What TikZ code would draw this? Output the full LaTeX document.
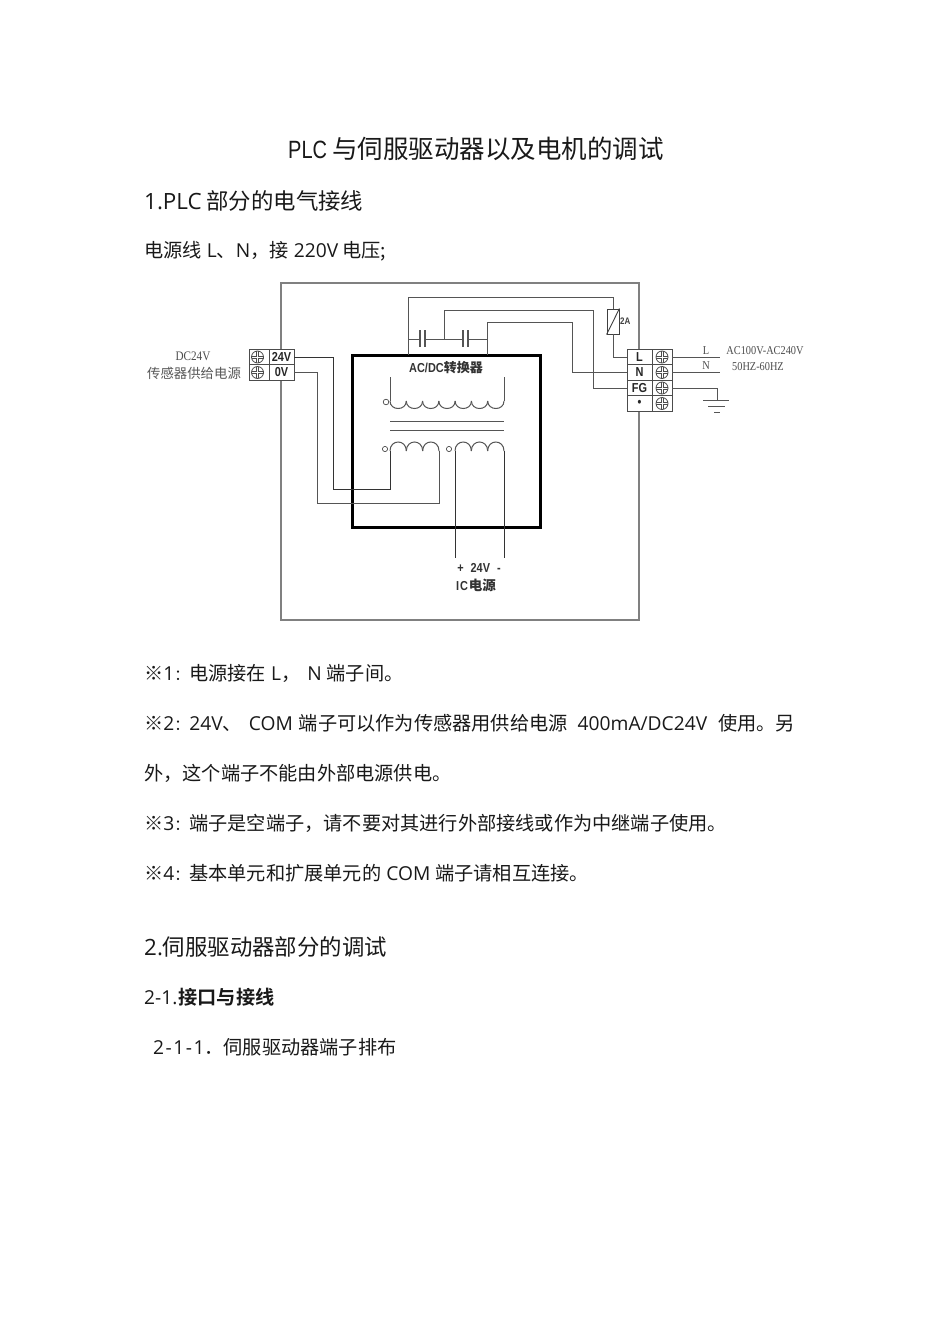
\documentclass[tikz,border=0pt]{standalone}
\usepackage{fontspec}
\setmainfont{Open Sans}
\newfontfamily\cj{Noto Sans CJK SC}
\newfontfamily\cjb{Noto Sans CJK SC Bold}
\newfontfamily\hei[FakeStretch=0.84]{Liberation Sans}
\newfontfamily\srf[FakeStretch=0.86]{Liberation Serif}
\newfontfamily\pl[FakeStretch=0.8]{Liberation Sans}
\newcommand{\C}[1]{{\cj #1}}
\newcommand{\Col}{{\cj\fontsize{15}{15}\selectfont ：}}
\definecolor{wirec}{HTML}{555555}
\definecolor{boxc}{HTML}{808080}
\tikzset{
  x=1pt,y=-1pt,
  txt/.style={anchor=base west,inner sep=0pt,text=black!90},
  titlef/.style={txt,font=\fontsize{25.5}{30}\selectfont},
  headf/.style={txt,font=\fontsize{22.4}{26}\selectfont},
  bodyf/.style={txt,font=\fontsize{19.2}{22}\selectfont},
  wire/.style={draw=wirec,line width=1pt,line join=miter},
  darkwire/.style={draw=black!80,line width=0.9pt},
  thickbox/.style={draw=black,line width=3pt},
  outerbox/.style={draw=boxc,line width=1.2pt},
  cell/.style={draw=black!70,fill=white,line width=0.9pt,inner sep=0pt,minimum height=15.5pt,font=\hei\bfseries\fontsize{13}{13}\selectfont,text=black!85},
  lab/.style={cell,minimum width=25pt},
  scr/.style={cell,minimum width=20pt},
  small/.style={inner sep=0pt,text=black!70},
  ring/.style={draw=black!70,line width=0.7pt,fill=white},
  screw/.pic={
    \draw[black!70,line width=0.8pt] (0,0) circle[radius=6];
    \draw[black!70,line width=0.7pt] (-6,-1)--(-1,-1)--(-1,-5.7) (1,-5.7)--(1,-1)--(6,-1)
      (-6,1)--(-1,1)--(-1,5.7) (1,5.7)--(1,1)--(6,1);
  }
}
\newcommand{\bumps}[5]{% start x, base y, count, width, ctrl depth
  \foreach \i in {1,...,#3}{
    \draw[wire] ({#1+(\i-1)*#4},#2) .. controls +(0,#5) and +(0,#5) .. ++(#4,0);
  }}
\begin{document}
\begin{tikzpicture}
\useasboundingbox[fill=white] (0,0) rectangle (950,1344);

% document text
\node[titlef] (title) at (288,158) {{\pl\fontsize{25}{26}\selectfont PLC}\hspace{5pt}\C{与伺服驱动器以及电机的调试}};
\node[headf] (h1) at (144,209) {1.PLC\hspace{-1pt} \C{部分的电气接线}};
\node[bodyf] (b0) at (144,257) {\C{电源线} L\C{、}N\C{，}\C{接} 220V\hspace{-1pt} \C{电压}\C{;}};
\node[bodyf] (n1) at (144,680) {\C{※}1\Col\C{电源接在} L\C{，} \hspace{2pt}N \C{端子间。}};
\node[bodyf] (n2) at (144,730) {\C{※}2\Col 24V\C{、}\hspace{2pt} COM\hspace{1pt} \C{端子可以作为传感器用供给电源}\hspace{5pt} 400mA/DC24V\hspace{6pt} \C{使用。另}};
\node[bodyf] (n2b) at (144,780) {\C{外，这个端子不能由外部电源供电。}};
\node[bodyf] (n3) at (144,830) {\C{※}3\Col\C{端子是空端子，请不要对其进行外部接线或作为中继端子使用。}};
\node[bodyf] (n4) at (144,880) {\C{※}4\Col\C{基本单元和扩展单元的} COM \C{端子请相互连接。}};
\node[headf] (h2) at (144,955) {2.\C{伺服驱动器部分的调试}};
\node[bodyf] (h21) at (144,1004) {2-1.\hspace{1pt}{\cjb 接口与接线}};
\node[bodyf] (h211) at (153,1054) {2\hspace{1.5pt}-\hspace{1.5pt}1\hspace{1.5pt}-\hspace{1.5pt}1\C{．伺服驱动器端子排布}};

% enclosures
\draw[outerbox] (281,283) rectangle (639,620);
\draw[thickbox] (352,355) rectangle (540,527);

% terminal blocks
\node[scr] (s24) at (259,357) {};
\node[scr] (s0) at (259,372.5) {};
\node[lab] (t24) at (281.5,357) {24V};
\node[lab] (t0) at (281.5,372.5) {0V};
\node[lab] (tL) at (639.5,357) {L};
\node[lab] (tN) at (639.5,372.5) {N};
\node[lab] (tFG) at (639.5,388) {FG};
\node[lab] (tD) at (639.5,403.5) {\textbullet};
\node[scr] (sL) at (662,357) {};
\node[scr] (sN) at (662,372.5) {};
\node[scr] (sFG) at (662,388) {};
\node[scr] (sD) at (662,403.5) {};
\foreach \n in {s24,s0} \pic at ([xshift=-1.5pt]\n) {screw};
\foreach \n in {sL,sN,sFG,sD} \pic at (\n) {screw};

% capacitors and fuse
\coordinate (c1a) at (420,339);
\coordinate (c1b) at (425,339);
\coordinate (c2a) at (463,339);
\coordinate (c2b) at (468,339);
\draw[wire,line width=1.2pt] (420,330)--(420,347) (425,330)--(425,347) (463,330)--(463,347) (468,330)--(468,347);
\node[draw=black!75,fill=white,line width=0.9pt,minimum width=12pt,minimum height=25pt,inner sep=0pt] (fuse) at (613,321.5) {};
\draw[black!75,line width=0.9pt] (fuse.south west)--(fuse.north east);
\node[anchor=west,inner sep=0pt,font=\hei\bfseries\fontsize{9.5}{10}\selectfont,text=black!75] (f2a) at (620,321) {2A};

% junction points
\coordinate (lTop) at (408,355);
\coordinate (mJ) at (444,339);
\coordinate (rTop) at (487,355);

% wiring
\draw[wire] (lTop) -- (408,297) -| (fuse.north);
\draw[wire] (lTop |- c1a) -- (c1a);
\draw[wire] (c1b) -- (c2a);
\draw[wire] (c2b) -- (rTop |- c2b);
\draw[wire] (fuse.south) |- (tL.west);
\draw[wire] (mJ) -- (444,310) -| (593,388) -- (tFG.west);
\draw[wire] (rTop) -- (487,322) -| (572,372.5) -- (tN.west);

% transformer
\coordinate (pL) at (390,401);
\coordinate (pR) at (504,401);
\draw[wire] (390,377) -- (pL);
\draw[wire] (504,377) -- (pR);
\bumps{390}{401}{7}{16.286}{10}
\draw[wire] (390,421) -- (504,421);
\draw[wire] (390,430) -- (504,430);
\draw[ring] (386,402) circle[radius=2.8];
\coordinate (sAL) at (390,451);
\coordinate (sAR) at (439,451);
\coordinate (sBL) at (455,451);
\coordinate (sBR) at (504,451);
\bumps{390}{451}{3}{16.33}{-12}
\bumps{455}{451}{3}{16.33}{-12}
\draw[ring] (385,449) circle[radius=2.6];
\draw[ring] (449,449) circle[radius=2.6];

\draw[darkwire] (t24.east) -- (333,357) |- (390,489) -- (sAL);
\draw[wire] (t0.east) -- (317,372.5) |- (439,503) -- (sAR);
\coordinate (vP) at (455,558);
\coordinate (vM) at (504,558);
\draw[darkwire] (sBL) -- (vP);
\draw[darkwire] (sBR) -- (vM);

% mains side
\coordinate (oL) at (720,357);
\coordinate (oN) at (720,372.5);
\coordinate (gnd) at (717,400);
\draw[wire] (sL.east) -- (oL);
\draw[wire] (sN.east) -- (oN);
\draw[wire] (sFG.east) -| (gnd);
\draw[wire] (703,400) -- (729,400);
\draw[wire] (708,406.5) -- (725,406.5);
\draw[wire] (714,412) -- (720,412);

% labels
\node[small,font=\srf\fontsize{12}{12}\selectfont] (lL) at (706,351) {L};
\node[small,font=\srf\fontsize{12}{12}\selectfont] (lN) at (706,366) {N};
\node[small,font=\srf\fontsize{12}{12}\selectfont] (lac) at (765,351) {AC100V-AC240V};
\node[small,font=\srf\fontsize{12}{12}\selectfont] (lhz) at (758,367) {50HZ-60HZ};
\node[small,font=\srf\fontsize{13}{13}\selectfont] (ldc) at (193,356) {DC24V};
\node[small,font=\cj\fontsize{13.4}{14}\selectfont,text=black!65] (lsens) at (194,373.5) {传感器供给电源};
\node[small,font=\hei\bfseries\fontsize{13}{13}\selectfont,text=black!80] (lconv) at (446,368) {AC/DC{\cj\fontsize{13}{13}\selectfont 转换器}};
\node[small,font=\hei\bfseries\fontsize{13}{13}\selectfont,text=black!80] (l24) at (479,568) {+\hspace{7pt}24V\hspace{7pt}-};
\node[small,font=\hei\bfseries\fontsize{13}{13}\selectfont,text=black!80] (lic) at (476,585.5) {I\hspace{1pt}C\hspace{1pt}{\cj\fontsize{13.5}{13}\selectfont 电源}};
\end{tikzpicture}
\end{document}
